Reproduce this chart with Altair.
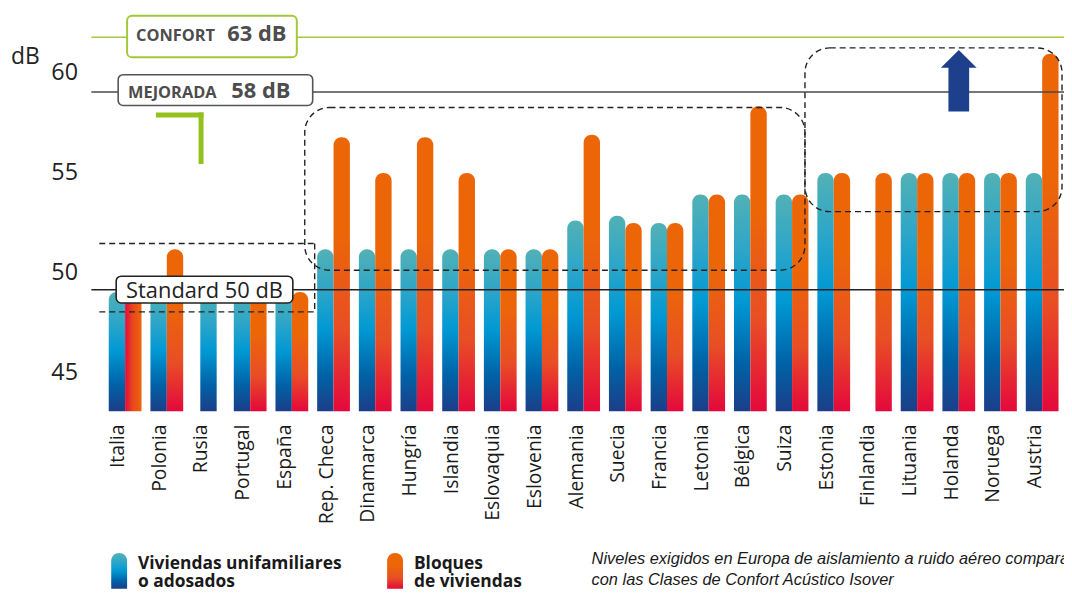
import altair as alt
import pandas as pd

# ---------------- data ----------------
paises = ["Italia", "Polonia", "Rusia", "Portugal", "España", "Rep. Checa", "Dinamarca",
          "Hungría", "Islandia", "Eslovaquia", "Eslovenia", "Alemania", "Suecia", "Francia",
          "Letonia", "Bélgica", "Suiza", "Estonia", "Finlandia", "Lituania", "Holanda",
          "Noruega", "Austria"]
viviendas = [50, 50, 50, 50, 50, 51.8, 51.8, 51.8, 51.8, 51.8, 51.8, 53.0, 53.2, 52.9,
             54.1, 54.1, 54.1, 55, None, 55, 55, 55, 55]
bloques = [50, 51.8, None, 50, 50, 56.5, 55, 56.5, 55, 51.8, 51.8, 56.6, 52.9, 52.9,
           54.1, 57.8, 54.1, 55, 55, 55, 55, 55, 60]
serie_claves = ["viv", "blo"]
leyenda_viv = ["Viviendas unifamiliares", "o adosados"]
leyenda_blo = ["Bloques", "de viviendas"]
nota = ["Niveles exigidos en Europa de aislamiento a ruido aéreo comparados",
        "con las Clases de Confort Acústico Isover"]
niveles_nombre = ["Confort", "Mejorada", "Standard"]
niveles_linea = [60.7, 58.4, 50.1]
niveles_color = ["#A3C83A", "#4A4A4A", "#222222"]
eje_valores = [45, 50, 55, 60]

rows = []
for p, v, b in zip(paises, viviendas, bloques):
    if v is not None:
        rows.append({"pais": p, "serie": "viv", "valor": v})
    if b is not None:
        rows.append({"pais": p, "serie": "blo", "valor": b})
df = pd.DataFrame(rows)
lines_df = pd.DataFrame({"nombre": niveles_nombre, "nivel": niveles_linea})
axis_df = pd.DataFrame({"v": eje_valores})
one = pd.DataFrame({"k": [0]})

W, H = 968, 400
FONT = "Open Sans"

teal_grad = {"gradient": "linear", "x1": 0, "y1": 0, "x2": 0, "y2": 1,
             "stops": [{"offset": 0, "color": "#52B1B5"},
                       {"offset": 0.25, "color": "#2EA6C8"},
                       {"offset": 0.5, "color": "#0098D4"},
                       {"offset": 0.78, "color": "#0062A6"},
                       {"offset": 1, "color": "#1C3E88"}]}
orange_grad = {"gradient": "linear", "x1": 0, "y1": 0, "x2": 0, "y2": 1,
               "stops": [{"offset": 0, "color": "#EC6608"},
                         {"offset": 0.35, "color": "#EC6608"},
                         {"offset": 0.7, "color": "#E84E25"},
                         {"offset": 1, "color": "#E4083C"}]}
italia_grad = {"gradient": "linear", "x1": 0, "y1": 0, "x2": 1, "y2": 0,
               "stops": [{"offset": 0, "color": "#E4083C"},
                         {"offset": 0.45, "color": "#E8471F"},
                         {"offset": 1, "color": "#EC6608"}]}

Ys = alt.Scale(domain=[45, 45 + H / 24], nice=False, zero=False)
X = alt.X("pais:N", sort=paises,
          scale=alt.Scale(domain=paises, paddingInner=0.214, paddingOuter=0.131),
          axis=alt.Axis(title=None, labelAngle=270, labelAlign="right", labelBaseline="middle",
                        labelPadding=13, labelOffset=-7, labelFontSize=19.5, labelFont=FONT,
                        labelColor="#1a1a1a", domain=False, ticks=False, tickSize=0,
                        grid=False, labelOverlap=False))
XO = alt.XOffset("serie:N", scale=alt.Scale(domain=serie_claves, paddingInner=0, paddingOuter=0))
Yv = alt.Y("valor:Q", scale=Ys, axis=None)

base = alt.Chart(df)
bar_kw = dict(cornerRadiusTopLeft=8, cornerRadiusTopRight=8)
teal = base.transform_filter("datum.serie == 'viv' && datum.pais != 'Rusia'").mark_bar(
    fill=teal_grad, **bar_kw).encode(x=X, xOffset=XO, y=Yv, y2=alt.datum(45))
rusia = base.transform_filter("datum.serie == 'viv' && datum.pais == 'Rusia'").mark_bar(
    fill=teal_grad, width=16.5, **bar_kw).encode(x=X, y=Yv, y2=alt.datum(45))
orange = base.transform_filter("datum.serie == 'blo' && datum.pais != 'Italia'").mark_bar(
    fill=orange_grad, **bar_kw).encode(x=X, xOffset=XO, y=Yv, y2=alt.datum(45))
italia_o = base.transform_filter("datum.serie == 'blo' && datum.pais == 'Italia'").mark_bar(
    fill=italia_grad, **bar_kw).encode(x=X, xOffset=XO, y=Yv, y2=alt.datum(45))

rules = alt.Chart(lines_df).mark_rule(strokeWidth=1.5).encode(
    y=alt.Y("nivel:Q", scale=Ys, axis=None),
    x=alt.value(-12), x2=alt.value(W),
    color=alt.Color("nombre:N", scale=alt.Scale(domain=niveles_nombre, range=niveles_color),
                    legend=None))

inner = alt.layer(teal, rusia, orange, italia_o, rules)

axis_layer = alt.Chart(axis_df).mark_point(opacity=0).encode(
    y=alt.Y("v:Q", scale=alt.Scale(domain=[43.06, 62.93], nice=False, zero=False),
            axis=alt.Axis(orient="left", values=eje_valores, domain=False, ticks=False,
                          tickSize=0, grid=False, labelPadding=26, labelFontSize=23.5,
                          labelFont=FONT, labelColor="#222222", title="dB", titleAngle=0,
                          titleX=-79, titleY=42.5, titleAlign="center",
                          titleBaseline="middle", titleFont=FONT, titleFontSize=23,
                          titleFontWeight="normal", titleColor="#222222")))


def rect(x1, x2, y1, y2, **kw):
    return alt.Chart(one).mark_rect(**kw).encode(
        x=alt.value(x1), x2=alt.value(x2), y=alt.value(y1), y2=alt.value(y2))


def hrule(x1, x2, y, **kw):
    return alt.Chart(one).mark_rule(**kw).encode(x=alt.value(x1), x2=alt.value(x2), y=alt.value(y))


def vrule(x, y1, y2, **kw):
    return alt.Chart(one).mark_rule(**kw).encode(x=alt.value(x), y=alt.value(y1), y2=alt.value(y2))


def text(s, x, y, **kw):
    return alt.Chart(one).mark_text(baseline="alphabetic", **kw).encode(
        x=alt.value(x), y=alt.value(y), text=alt.value(s))


NOTE_FONT = "Liberation Sans"
dash = dict(stroke="#222222", strokeWidth=1.4, strokeDash=[6, 4])
leg = dict(align="left", font=FONT, fontSize=17.5, fontWeight="bold", color="#1a1a1a",
           lineBreak="\n", lineHeight=18.5)
annotations = [
    # dashed groups
    hrule(-4, 213, 231, **dash),
    vrule(213, 231, 300, **dash),
    hrule(-4, 213, 300, **dash),
    rect(203, 707, 94, 258, fill="white", fillOpacity=0, cornerRadius=25, **dash),
    rect(707, 966, 34, 199, fill="white", fillOpacity=0, cornerRadius=25, **dash),
    # level label boxes
    rect(24, 195, 1.5, 43.5, fill="white", stroke="#A3C83A", strokeWidth=2, cornerRadius=5),
    text("CONFORT", 33, 27.5, align="left", font=FONT, fontWeight="bold", fontSize=16.5,
         color="#4D4D4D"),
    text("63 dB", 125, 27.5, align="left", font=FONT, fontWeight="bold", fontSize=22,
         color="#4D4D4D"),
    rect(15, 211, 61, 92, fill="white", stroke="#555555", strokeWidth=1.6, cornerRadius=5),
    text("MEJORADA", 25, 84.5, align="left", font=FONT, fontWeight="bold", fontSize=16.5,
         color="#4D4D4D"),
    text("58 dB", 129, 84.5, align="left", font=FONT, fontWeight="bold", fontSize=22,
         color="#4D4D4D"),
    rect(13, 191, 264, 291, fill="white", stroke="#222222", strokeWidth=1.6, cornerRadius=5),
    text("Standard 50 dB", 102, 286, align="center", font=FONT, fontSize=22,
         color="#222222"),
    # green corner mark
    hrule(53, 101, 101.5, stroke="#95C11F", strokeWidth=5),
    vrule(98.5, 99, 151, stroke="#95C11F", strokeWidth=5),
    # blue arrow
    alt.Chart(one).mark_point(
        shape="M 0 -1.72 L 1 -0.72 L 0.58 -0.72 L 0.58 1.72 L -0.58 1.72 L -0.58 -0.72 L -1 -0.72 Z",
        size=1296, filled=True, fill="#1E3F8B", opacity=1, strokeWidth=0).encode(
        x=alt.value(862), y=alt.value(67)),
    # legend
    rect(8, 24, 543, 579, fill=teal_grad, cornerRadiusTopLeft=8, cornerRadiusTopRight=8),
    text("\n".join(leyenda_viv), 35, 559, **leg),
    rect(286, 302, 543, 579, fill=orange_grad, cornerRadiusTopLeft=8, cornerRadiusTopRight=8),
    text("\n".join(leyenda_blo), 313, 559, **leg),
    # note
    text("\n".join(nota), 492, 553.5, align="left", font=NOTE_FONT, fontSize=16.5,
         fontStyle="italic", color="#1a1a1a", lineBreak="\n", lineHeight=21.5),
]

chart = alt.layer(inner, axis_layer, *annotations).resolve_scale(y="independent").properties(
    width=W, height=H,
    padding={"left": 96, "top": 4, "right": 0, "bottom": 181},
    autosize=alt.AutoSizeParams(type="none"),
    background="white",
).configure_view(strokeWidth=0)

chart.save("out.html", embed_options={"renderer": "svg", "actions": False})
